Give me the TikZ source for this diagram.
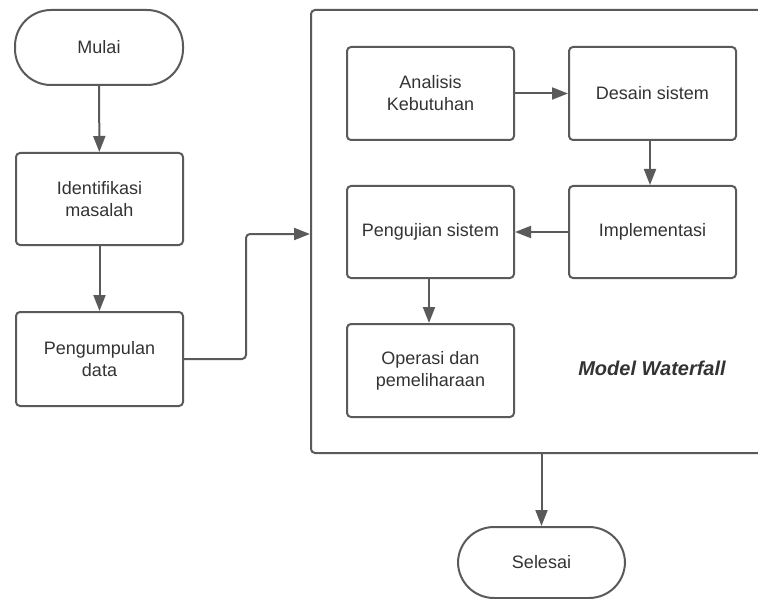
\documentclass[tikz,border=0pt]{standalone}
\usepackage{fontspec}
\setmainfont{Liberation Sans}
\usetikzlibrary{arrows.meta}
\definecolor{ln}{HTML}{5A5A5A}
\definecolor{tx}{HTML}{333333}
\begin{document}
\begin{tikzpicture}[x=1pt,y=-1pt,
  box/.style={draw=ln, line width=2pt, rounded corners=4pt, minimum width=167pt, minimum height=92pt, inner sep=0pt, align=center, text=tx, font=\fontsize{18}{22}\selectfont},
  term/.style={box, rounded corners=36pt, minimum height=74pt},
  conn/.style={draw=ln, line width=2pt, -{Triangle[length=16pt,width=12pt]}}]
\useasboundingbox (0,0) rectangle (758,599);
\clip (0,0) rectangle (758,599);
\node[box, minimum width=464pt, minimum height=443pt] (wf) at (543,231.5) {};
\node[term, minimum width=168pt, minimum height=75pt] (mulai) at (99,47.5) {Mulai};
\node[box] (ident) at (99.5,199) {Identifikasi\\masalah};
\node[box, minimum height=94pt] (kumpul) at (99.5,359) {Pengumpulan\\data};
\node[box, minimum height=93pt] (analisis) at (430.5,93.5) {Analisis\\Kebutuhan};
\node[box, minimum height=93pt] (desain) at (652.5,93.5) {Desain sistem};
\node[box] (uji) at (430.5,232) {Pengujian sistem};
\node[box] (impl) at (652.5,232) {Implementasi};
\node[box, minimum height=93pt] (operasi) at (430.5,370.5) {Operasi dan\\pemeliharaan};
\node[text=tx, font=\fontsize{20}{22}\selectfont\bfseries\itshape] (label) at (652,368) {Model Waterfall};
\node[term, minimum height=71pt] (selesai) at (541.5,562.5) {Selesai};
\coordinate (c1) at (246,359);
\coordinate (c2) at (246,234);
\draw[conn] (mulai) -- (ident);
\draw[conn] (ident) -- (kumpul);
\draw[conn, rounded corners=4pt] (kumpul.east) -- (c1) -- (c2) -- (c2 -| wf.west);
\draw[conn] (analisis) -- (desain);
\draw[conn] (desain.south -| 650,0) -- (impl.north -| 650,0);
\draw[conn] (impl) -- (uji);
\draw[conn] (uji.south -| 429,0) -- (operasi.north -| 429,0);
\draw[conn] (wf.south -| selesai.north) -- (selesai.north);
\end{tikzpicture}
\end{document}
